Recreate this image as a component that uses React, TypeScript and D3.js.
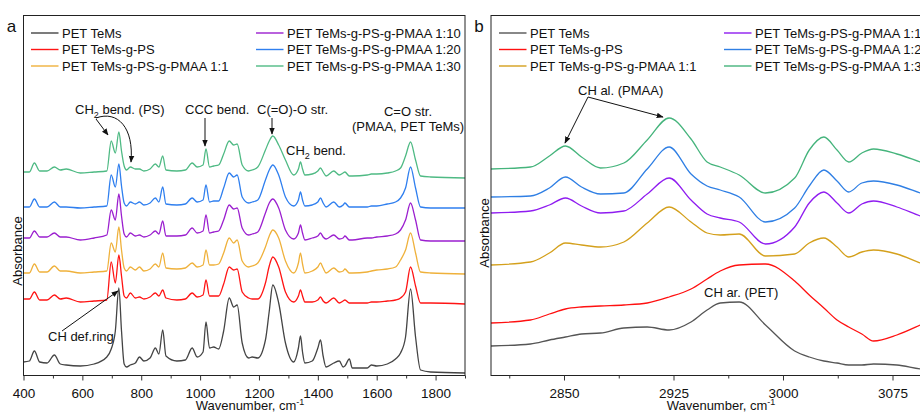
import * as d3 from 'd3'
import { useEffect, useRef } from 'react'

// ---- panel a: 400-1900 cm-1, absorbance in arbitrary (stacked) units
const wnA = [400, 420, 437, 455, 480, 505, 525, 545, 593, 640, 683, 698, 712, 724, 733, 742, 750, 763, 780, 794,
  809, 830, 848, 860, 873, 884, 921, 950, 973, 990, 1010, 1020, 1032, 1046, 1063, 1080, 1099, 1114, 1126, 1143,
  1165, 1177, 1196, 1222, 1235, 1247, 1267, 1290, 1318, 1334, 1341, 1348, 1356, 1381, 1400, 1409, 1418, 1428, 1454, 1473,
  1486, 1492, 1507, 1517, 1568, 1582, 1600, 1636, 1664, 1681, 1698, 1715, 1732, 1749, 1783, 1900]

const petA = [1.4, 1.5, 2.5, 1.4, 1.3, 2.1, 1.2, 1.1, 1.0, 1.2, 1.9, 2.7, 4.5, 8.8, 4.5, 1.2, 0.9, 1.1, 1.3, 1.9,
  1.5, 1.8, 2.8, 2.2, 4.6, 2.0, 1.5, 1.6, 2.8, 1.9, 2.4, 5.4, 2.8, 2.9, 2.7, 4.5, 7.8, 6.9, 7.1, 3.3,
  1.8, 1.9, 1.8, 3.6, 6.5, 9.1, 7.3, 3.3, 1.4, 2.8, 4.0, 2.4, 1.3, 1.5, 2.8, 3.6, 2.0, 0.9, 1.3, 1.5,
  0.9, 1.0, 1.7, 0.8, 0.8, 1.1, 1.0, 1.2, 1.7, 2.3, 3.9, 8.7, 3.9, 0.6, 0.4, 0.3]
const psA = [7.7, 7.7, 8.4, 7.6, 7.6, 8.1, 7.7, 7.8, 7.4, 7.5, 7.6, 11.4, 9.3, 12.1, 10.0, 8.0, 7.8, 8.3, 7.8, 7.9,
  7.7, 7.9, 8.3, 8.0, 8.6, 7.8, 7.6, 7.7, 8.3, 7.9, 8.1, 9.6, 8.0, 8.0, 8.0, 9.2, 10.9, 10.6, 10.7, 8.4,
  7.8, 7.7, 7.7, 9.3, 11.0, 11.9, 10.9, 8.4, 7.4, 8.0, 8.6, 8.0, 7.4, 7.4, 7.6, 7.9, 7.5, 7.3, 7.8, 7.3,
  7.5, 7.6, 7.3, 7.3, 7.3, 7.4, 7.4, 7.5, 7.6, 7.8, 8.4, 10.9, 9.0, 7.3, 7.3, 7.2]
const pmaa1A = [10.3, 10.3, 11.2, 10.4, 10.4, 11.0, 10.5, 10.5, 10.3, 10.4, 10.5, 13.3, 12.4, 14.9, 12.6, 10.8, 10.5, 10.9, 10.6, 10.9,
  10.5, 10.7, 11.2, 10.9, 12.3, 10.8, 10.7, 10.8, 11.3, 10.9, 11.1, 12.6, 11.1, 11.1, 11.2, 12.3, 13.8, 13.3, 13.6, 11.5,
  10.9, 11.0, 11.3, 12.9, 14.0, 14.6, 13.8, 11.5, 10.3, 11.3, 12.3, 11.2, 10.3, 10.5, 10.9, 11.3, 10.8, 10.3, 10.8, 10.4,
  10.5, 10.7, 10.3, 10.3, 10.4, 10.5, 10.6, 10.7, 10.9, 11.6, 12.6, 14.3, 12.3, 10.4, 10.3, 10.2]
const pmaa10A = [13.8, 13.8, 14.5, 13.9, 13.9, 14.3, 13.9, 13.9, 13.6, 13.8, 14.1, 16.6, 15.6, 18.2, 16.0, 14.2, 13.9, 14.3, 14.0, 14.1,
  13.9, 14.1, 14.5, 14.2, 15.5, 14.0, 14.0, 14.1, 14.8, 14.3, 14.5, 16.1, 14.3, 14.4, 14.5, 15.6, 17.1, 16.7, 16.8, 14.8,
  14.1, 14.2, 14.4, 16.3, 17.3, 17.7, 16.8, 14.6, 13.7, 14.3, 15.1, 14.3, 13.6, 13.8, 14.0, 14.3, 13.9, 13.7, 14.1, 13.7,
  13.8, 14.0, 13.6, 13.6, 13.8, 13.8, 13.9, 14.0, 14.2, 14.6, 15.6, 17.3, 15.6, 13.6, 13.5, 13.5]
const pmaa20A = [16.9, 16.9, 17.7, 16.9, 16.9, 17.4, 16.9, 16.9, 16.8, 16.9, 17.0, 20.1, 18.9, 21.2, 19.0, 17.3, 17.0, 17.4, 17.2, 17.4,
  17.1, 17.3, 17.8, 17.4, 18.9, 17.2, 17.1, 17.2, 17.8, 17.4, 17.6, 19.1, 17.4, 17.5, 17.5, 18.8, 20.3, 19.9, 20.1, 17.9,
  17.3, 17.4, 17.6, 19.6, 20.6, 21.1, 20.1, 17.9, 17.0, 17.6, 18.4, 17.6, 17.0, 17.1, 17.4, 17.8, 17.3, 16.9, 17.4, 16.9,
  17.1, 17.3, 16.9, 16.9, 16.9, 17.0, 17.0, 17.2, 17.4, 17.8, 18.8, 20.9, 18.8, 16.9, 16.8, 16.8]
const pmaa30A = [20.4, 20.4, 21.3, 20.5, 20.5, 20.9, 20.6, 20.7, 20.3, 20.4, 20.5, 23.5, 22.3, 24.4, 22.5, 21.0, 20.6, 20.9, 20.7, 20.7,
  20.5, 20.7, 21.2, 20.9, 22.0, 20.6, 20.5, 20.6, 21.3, 20.9, 21.1, 22.7, 20.9, 21.0, 21.1, 22.2, 23.5, 23.1, 23.2, 21.1,
  20.5, 20.6, 20.9, 22.6, 23.5, 24.0, 23.1, 21.6, 20.1, 20.7, 21.4, 20.7, 20.1, 20.2, 20.5, 20.8, 20.4, 20.0, 20.5, 20.1,
  20.3, 20.4, 20.0, 20.0, 20.1, 20.2, 20.2, 20.3, 20.5, 20.8, 22.0, 23.4, 21.6, 20.0, 19.9, 19.8]

// ---- panel b: 2800-3100 cm-1
const wnB = [2800, 2827, 2840, 2851, 2862, 2875, 2891, 2907, 2922, 2937, 2948, 2957, 2970, 2988, 3008, 3018,
  3028, 3037, 3045, 3054, 3062, 3078, 3094, 3100]
const petB = [3.0, 3.2, 3.6, 3.9, 4.2, 4.3, 4.8, 4.9, 4.6, 5.4, 6.6, 7.3, 7.4, 5.1, 2.5, 1.9,
  1.5, 1.3, 1.1, 1.1, 1.2, 1.1, 0.7, 0.6]
const psB = [5.3, 5.6, 6.2, 6.7, 6.9, 7.0, 7.1, 7.3, 7.9, 8.7, 9.7, 10.5, 11.1, 11.2, 9.5, 8.1,
  6.8, 5.6, 4.9, 4.2, 3.5, 4.1, 5.1, 5.5]
const pmaa1B = [11.1, 11.4, 12.3, 13.3, 13.1, 12.9, 13.4, 15.3, 16.9, 15.4, 14.3, 14.1, 14.2, 12.0, 12.2, 13.3,
  13.8, 12.9, 11.9, 12.4, 12.6, 12.2, 11.3, 11.0]
const pmaa10B = [16.3, 16.5, 17.1, 17.8, 17.0, 16.3, 16.5, 18.2, 19.8, 17.6, 16.2, 15.8, 15.4, 13.2, 14.9, 17.3,
  18.4, 17.3, 16.3, 17.2, 17.5, 16.9, 16.0, 15.7]
const pmaa20B = [17.9, 18.0, 18.8, 19.9, 18.9, 18.2, 18.3, 20.7, 22.9, 20.2, 19.0, 18.6, 17.9, 15.4, 16.8, 19.0,
  20.6, 19.5, 18.4, 19.3, 19.5, 19.1, 18.3, 18.0]
const pmaa30B = [20.7, 20.9, 22.0, 23.0, 21.9, 20.8, 21.3, 23.6, 25.8, 23.7, 21.4, 20.9, 20.1, 18.3, 19.8, 22.6,
  23.9, 22.6, 21.4, 22.3, 22.7, 22.2, 21.4, 21.1]

const seriesNames = ['PET TeMs', 'PET TeMs-g-PS', 'PET TeMs-g-PS-g-PMAA 1:1',
  'PET TeMs-g-PS-g-PMAA 1:10', 'PET TeMs-g-PS-g-PMAA 1:20', 'PET TeMs-g-PS-g-PMAA 1:30']
const colorsA = ['#444444', '#ff1414', '#efb13b', '#9b1fcf', '#2f7fef', '#4fba84']
const colorsB = ['#555555', '#ff1010', '#d4a01c', '#8f1cf0', '#2f7fe4', '#45b47c']

const majorA = [400, 600, 800, 1000, 1200, 1400, 1600, 1800]
const minorA = [500, 700, 900, 1100, 1300, 1500, 1700, 1900]
const majorB = [2850, 2925, 3000, 3075]
const minorB = [2812.5, 2887.5, 2962.5, 3037.5]

const FONT = '"Liberation Sans", Arial, sans-serif'
const TOP = 15.5
const BOTTOM = 375.5

const Axis = ({ scale, major, minor }) => {
  const ref = useRef()
  useEffect(() => {
    const g = d3.select(ref.current)
    g.selectAll('*').remove()
    const maj = g.append('g').call(d3.axisBottom(scale).tickValues(major).tickSize(5).tickSizeOuter(0).tickFormat(d3.format('d')))
    const mnr = g.append('g').call(d3.axisBottom(scale).tickValues(minor).tickSize(3).tickSizeOuter(0).tickFormat(() => ''))
    g.selectAll('.domain').remove()
    g.selectAll('line').attr('stroke', '#333')
    maj.selectAll('text').attr('font-family', FONT).attr('font-size', 13.5).attr('fill', '#111').attr('dy', '1.05em')
    mnr.selectAll('text').remove()
  }, [scale, major, minor])
  return <g ref={ref} transform={`translate(0,${BOTTOM})`} />
}

const Legend = ({ x1, x2, colors }) => (
  <g fontFamily={FONT} fontSize={13} fill="#111">
    {seriesNames.map((name, i) => {
      const col = i < 3 ? 0 : 1
      const row = i % 3
      const x = col === 0 ? x1 : x2
      const y = 33 + row * 16.5
      return (
        <g key={name}>
          <line x1={x} x2={x + 27.5} y1={y} y2={y} stroke={colors[i]} strokeWidth={1.4} />
          <text x={x + 31} y={y + 4.5}>{name}</text>
        </g>
      )
    })}
  </g>
)

const Panel = ({ id, left, right, domain, wn, series, colors, major, minor, letter, titleX, absY, children, legendX }) => {
  const x = d3.scaleLinear().domain(domain).range([left, right])
  const y = d3.scaleLinear().domain([0, 36.1]).range([376, 15])
  const line = d3.line().x((d) => x(d[0])).y((d) => y(d[1])).curve(d3.curveMonotoneX)
  return (
    <g>
      <defs>
        <clipPath id={`clip-${id}`}>
          <rect x={left} y={TOP} width={right - left} height={BOTTOM - TOP} />
        </clipPath>
      </defs>
      <g clipPath={`url(#clip-${id})`} fill="none" strokeWidth={1.3} strokeLinejoin="round">
        {series.map((vals, i) => (
          <path key={i} d={line(wn.map((w, j) => [w, vals[j]]))} stroke={colors[i]} />
        ))}
      </g>
      <rect x={left} y={TOP} width={right - left} height={BOTTOM - TOP} fill="none" stroke="#222" strokeWidth={1} />
      <Axis scale={x} major={major} minor={minor} />
      <text x={titleX} y={410} textAnchor="middle" fontFamily={FONT} fontSize={13} fill="#111">
        Wavenumber, cm<tspan fontSize={9} dy={-5}>-1</tspan>
      </text>
      <text transform={`translate(${left - 2},${absY}) rotate(-90)`} textAnchor="middle" fontFamily={FONT} fontSize={13} fill="#111">
        Absorbance
      </text>
      <text x={left - 12} y={32} textAnchor="middle" fontFamily={FONT} fontSize={17} fill="#111">{letter}</text>
      <Legend x1={legendX[0]} x2={legendX[1]} colors={colors} />
      {children}
    </g>
  )
}

export default function App() {
  const seriesA = [petA, psA, pmaa1A, pmaa10A, pmaa20A, pmaa30A]
  const seriesB = [petB, psB, pmaa1B, pmaa10B, pmaa20B, pmaa30B]
  const t = { fontFamily: FONT, fontSize: 13, fill: '#111' }
  return (
    <>
      <style>{'body{margin:0;background:#fff}'}</style>
      <svg width={920} height={415} style={{ display: 'block', background: '#fff' }}>
        <defs>
          <marker id="arr" viewBox="0 0 10 10" refX="9" refY="5" markerWidth="7" markerHeight="7" orient="auto-start-reverse">
            <path d="M0,1 L10,5 L0,9 z" fill="#111" />
          </marker>
        </defs>
        <Panel id="a" left={23.5} right={465} domain={[400, 1900]} wn={wnA} series={seriesA} colors={colorsA}
          major={majorA} minor={minorA} letter="a" titleX={250} absY={251} legendX={[31, 256]}>
          <g stroke="#111" strokeWidth={1} fill="none">
            <line x1={96} y1={119} x2={108} y2={135} markerEnd="url(#arr)" />
            <path d="M96,118 C118,110 134,128 131,162" markerEnd="url(#arr)" />
            <line x1={205} y1={118} x2={205} y2={146} markerEnd="url(#arr)" />
            <line x1={272} y1={118} x2={272} y2={134} markerEnd="url(#arr)" />
            <line x1={62} y1={331} x2={118} y2={291} markerEnd="url(#arr)" />
          </g>
          <text x={75} y={114} {...t}>CH<tspan fontSize={9} dy={4}>2</tspan><tspan dy={-4}> bend. (PS)</tspan></text>
          <text x={185} y={114} {...t}>CCC bend.</text>
          <text x={257} y={114} {...t}>C(=O)-O str.</text>
          <text x={408} y={116} textAnchor="middle" {...t}>C=O str.</text>
          <text x={408} y={131} textAnchor="middle" {...t}>(PMAA, PET TeMs)</text>
          <text x={286} y={155} {...t}>CH<tspan fontSize={9} dy={4}>2</tspan><tspan dy={-4}> bend.</tspan></text>
          <text x={48} y={341} {...t}>CH def.ring</text>
        </Panel>
        <Panel id="b" left={491} right={929} domain={[2800, 3100]} wn={wnB} series={seriesB} colors={colorsB}
          major={majorB} minor={minorB} letter="b" titleX={721} absY={233} legendX={[499, 724]}>
          <g stroke="#111" strokeWidth={1} fill="none">
            <line x1={588} y1={97} x2={565} y2={143} markerEnd="url(#arr)" />
            <line x1={588} y1={97} x2={663} y2={117} markerEnd="url(#arr)" />
          </g>
          <text x={578} y={95} {...t}>CH al. (PMAA)</text>
          <text x={704} y={297} {...t}>CH ar. (PET)</text>
        </Panel>
      </svg>
    </>
  )
}
